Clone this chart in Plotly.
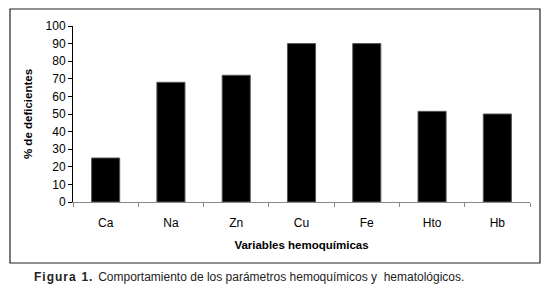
import plotly.graph_objects as go

categories = ["Ca", "Na", "Zn", "Cu", "Fe", "Hto", "Hb"]
values = [25, 68, 72, 90, 90, 51.5, 50]
y_ticks = [0, 10, 20, 30, 40, 50, 60, 70, 80, 90, 100]

FONT = "Liberation Sans, Arial, sans-serif"

OFF = 8  # default page body margin
W, H = 553 - OFF, 290 - OFF
L, T = 73 - OFF, 26 - OFF
R = 553 - 530
B = 290 - 202
pw = W - L - R
ph = H - T - B

def px_x(x):
    return (x - OFF - L) / pw

def px_y(y):
    return (H - B - (y - OFF)) / ph

bx0, bx1, by0, by1 = px_x(10), px_x(540), px_y(263), px_y(9)
box_line = dict(color="#222222", width=1.2)

fig = go.Figure(go.Bar(
    x=categories, y=values,
    marker=dict(color="black", line=dict(color="#555555", width=1)),
    width=0.43,
))

fig.update_layout(
    width=W, height=H,
    margin=dict(l=L, r=R, t=T, b=B, autoexpand=False),
    paper_bgcolor="white", plot_bgcolor="white",
    showlegend=False,
    font=dict(family=FONT, size=12, color="black"),
    xaxis=dict(
        showline=True, linecolor="#888888", linewidth=1,
        ticks="outside", tickson="boundaries", ticklen=4, tickcolor="#888888",
        showgrid=False, zeroline=False,
        tickfont=dict(size=12),
        ticklabelstandoff=10,
        title=dict(text="<b>Variables hemoquímicas</b>", font=dict(size=11.5), standoff=11),
    ),
    yaxis=dict(
        range=[0, 100], tickvals=y_ticks,
        showline=True, linecolor="black", linewidth=1,
        ticks="outside", ticklen=4, tickcolor="black",
        showgrid=False, zeroline=False,
        tickfont=dict(size=12),
        title=dict(text="<b>% de deficientes</b>", font=dict(size=11.5), standoff=10),
    ),
    shapes=[
        dict(type="rect", xref="paper", yref="paper", x0=bx0, x1=bx1, y0=by0, y1=by1,
             line=box_line, fillcolor="rgba(0,0,0,0)", layer="above"),
    ],
    annotations=[dict(
        xref="paper", yref="paper",
        x=px_x(32), y=px_y(277), xanchor="left", yanchor="middle",
        showarrow=False,
        text="<b>F\u200ai\u200ag\u200au\u200ar\u200aa\u2009 1\u200a.</b>\u2009 Comportamiento de los parámetros hemoquímicos y  hematológicos.",
        font=dict(size=12, family=FONT, color="#222222"),
    )],
)

fig.write_html("out.html")
